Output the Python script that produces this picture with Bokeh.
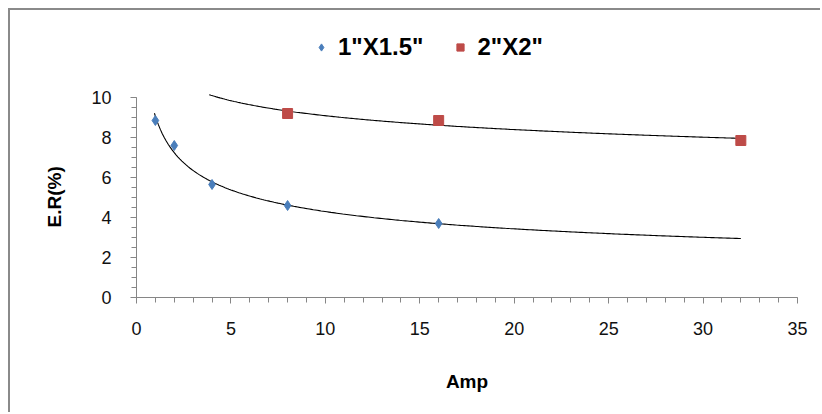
import numpy as np
from bokeh.plotting import figure
from bokeh.models import Legend, LegendItem, Range1d, SingleIntervalTicker, Title
from bokeh.embed import file_html
from bokeh.resources import INLINE

# data
amp_a = [1, 2, 4, 8, 16]
er_a = [8.85, 7.6, 5.65, 4.6, 3.7]
amp_b = [8, 16, 32]
er_b = [9.2, 8.85, 7.85]
label_a = '1"X1.5"'
label_b = '2"X2"'
trend_a_from, trend_a_to = 0.95, 32
trend_b_from, trend_b_to = 3.85, 32
y_ticks_min, y_ticks_max = 0, 10

FONT = "Liberation Sans"

p = figure(width=812, height=404, output_backend="svg", toolbar_location=None,
           x_range=Range1d(0, 35), y_range=Range1d(0, 13.85),
           min_border_left=126, min_border_right=25, min_border_top=10,
           min_border_bottom=117)
p.styles = {"margin-left": "8px", "margin-top": "8px",
            "border-left": "2px solid #8a8a8a", "border-top": "2px solid #8a8a8a"}
p.outline_line_color = None
p.xgrid.visible = False
p.ygrid.visible = False

def power_fit(xs, ys):
    b, lna = np.polyfit(np.log(xs), np.log(ys), 1)
    return np.exp(lna), b

for xs, ys, (x0, x1) in [(amp_a, er_a, (trend_a_from, trend_a_to)),
                         (amp_b, er_b, (trend_b_from, trend_b_to))]:
    a, b = power_fit(xs, ys)
    tx = np.linspace(x0, x1, 300)
    p.line(tx, a * tx ** b, line_color="black", line_width=1.1)

ra = p.scatter(amp_a, er_a, marker="diamond", size=10, fill_color="#4A7EBB", line_color="#4A7EBB")
rb = p.scatter(amp_b, er_b, marker="square", size=10, fill_color="#BE4B48", line_color="#BE4B48")

for ax in (p.xaxis[0], p.yaxis[0]):
    ax.axis_line_color = "#868686"
    ax.major_tick_line_color = "#868686"
    ax.minor_tick_line_color = "#868686"
    ax.major_tick_in = 0
    ax.minor_tick_in = 0
    ax.major_tick_out = 6
    ax.minor_tick_out = 5
    ax.major_label_text_font = FONT
    ax.major_label_text_font_size = "18px"
    ax.major_label_text_color = "#111111"
    ax.axis_label_text_font = FONT
    ax.axis_label_text_font_style = "bold"
    ax.axis_label_text_font_size = "19px"
    ax.axis_label_text_color = "#000000"

p.xaxis.ticker = SingleIntervalTicker(interval=5, num_minor_ticks=5)
p.yaxis.ticker = SingleIntervalTicker(interval=2, num_minor_ticks=4)
p.yaxis.bounds = (y_ticks_min, y_ticks_max)
p.xaxis.axis_label = "Amp"
p.yaxis.axis_label = " "
p.yaxis.axis_label_text_font_size = "11px"
p.xaxis.major_label_standoff = 18
p.yaxis.major_label_standoff = 19
p.xaxis.axis_label_standoff = 33
p.yaxis.axis_label_standoff = 4

ytitle = Title(text="E.R(%)", align="left", offset=70,
               text_font=FONT, text_font_style="bold", text_font_size="19px",
               text_color="#000000")
p.add_layout(ytitle, "left")

legend = Legend(items=[LegendItem(label=label_a, renderers=[ra]),
                       LegendItem(label=label_b, renderers=[rb])],
                orientation="horizontal", location=(176, 236),
                label_text_font=FONT, label_text_font_style="bold",
                label_text_font_size="24px", label_text_color="#000000",
                padding=0, margin=0,
                spacing=28, label_standoff=8, glyph_width=18, glyph_height=24,
                background_fill_alpha=0, border_line_color=None)
p.add_layout(legend, "center")

open("out.html", "w").write(file_html(p, INLINE))
